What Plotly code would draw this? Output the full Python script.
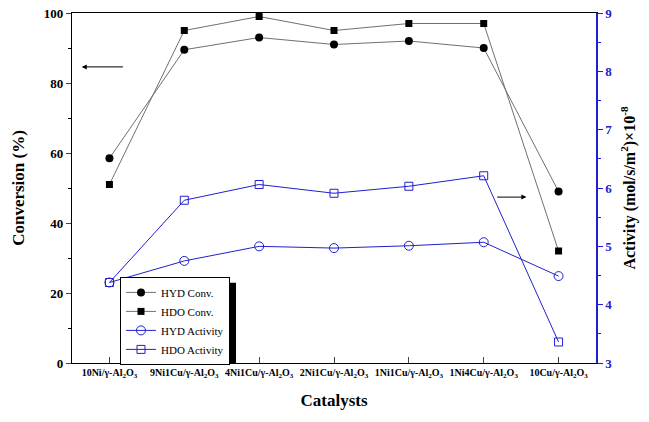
import plotly.graph_objects as go

catalysts = ["10Ni/γ-Al<sub>2</sub>O<sub>3</sub>", "9Ni1Cu/γ-Al<sub>2</sub>O<sub>3</sub>",
             "4Ni1Cu/γ-Al<sub>2</sub>O<sub>3</sub>", "2Ni1Cu/γ-Al<sub>2</sub>O<sub>3</sub>",
             "1Ni1Cu/γ-Al<sub>2</sub>O<sub>3</sub>", "1Ni4Cu/γ-Al<sub>2</sub>O<sub>3</sub>",
             "10Cu/γ-Al<sub>2</sub>O<sub>3</sub>"]
hyd_conv = [58.5, 89.5, 93.0, 91.0, 92.0, 90.0, 49.0]
hdo_conv = [51.0, 95.0, 99.0, 95.0, 97.0, 97.0, 32.0]
hyd_act = [4.38, 4.75, 5.00, 4.97, 5.01, 5.07, 4.49]
hdo_act = [4.38, 5.79, 6.06, 5.91, 6.03, 6.21, 3.36]

x = list(range(len(catalysts)))
serif = "Liberation Serif, Times New Roman, serif"
blue = "#2020d0"

fig = go.Figure()
fig.add_trace(go.Scatter(x=x, y=hyd_conv, name="HYD Conv.", mode="lines+markers",
                         line=dict(color="#707070", width=1),
                         marker=dict(symbol="circle", size=8, color="black")))
fig.add_trace(go.Scatter(x=x, y=hdo_conv, name="HDO Conv.", mode="lines+markers",
                         line=dict(color="#707070", width=1),
                         marker=dict(symbol="square", size=7, color="black")))
fig.add_trace(go.Scatter(x=x, y=hyd_act, name="HYD Activity", mode="lines+markers", yaxis="y2",
                         line=dict(color=blue, width=1),
                         marker=dict(symbol="circle-open", size=9, color=blue, line=dict(width=1))))
fig.add_trace(go.Scatter(x=x, y=hdo_act, name="HDO Activity", mode="lines+markers", yaxis="y2",
                         line=dict(color=blue, width=1),
                         marker=dict(symbol="square-open", size=8, color=blue, line=dict(width=1))))

fig.update_layout(
    width=649, height=422,
    margin=dict(l=72, r=53, t=13, b=59, autoexpand=False),
    plot_bgcolor="white", paper_bgcolor="white",
    font=dict(family=serif, color="black"),
    xaxis=dict(range=[-0.5, 6.5], tickvals=x, ticktext=catalysts, automargin=False,
               tickfont=dict(size=10, weight="bold"), ticks="inside", ticklen=6,
               showline=True, linecolor="black", linewidth=1.2, mirror=True,
               showgrid=False, zeroline=False, tickangle=0,
               title=dict(text="Catalysts", font=dict(size=17, weight="bold"), standoff=14)),
    yaxis=dict(range=[0, 100], dtick=20, ticks="outside", ticklen=5, automargin=False,
               minor=dict(dtick=10, ticks="outside", ticklen=3, tickcolor="black"),
               tickfont=dict(size=13, weight="bold"), ticklabeloverflow="allow",
               showline=True, linecolor="black", linewidth=1.2,
               showgrid=False, zeroline=False,
               title=dict(text="Conversion (%)", font=dict(size=17, weight="bold"), standoff=14)),
    yaxis2=dict(range=[3, 9], dtick=1, overlaying="y", side="right", anchor="x", automargin=False,
                ticks="outside", ticklen=5, tickcolor=blue, ticklabeloverflow="allow",
                minor=dict(dtick=0.5, ticks="outside", ticklen=3, tickcolor=blue),
                tickfont=dict(size=13, weight="bold", color=blue),
                showline=True, linecolor=blue, linewidth=1.5,
                showgrid=False, zeroline=False,
                title=dict(text="Activity (mol/s/m<sup>2</sup>)×10<sup>-8</sup>",
                           font=dict(size=16, weight="bold"), standoff=12)),
    legend=dict(x=0.0916, y=0.246, xanchor="left", yanchor="top",
                bgcolor="white", bordercolor="black", borderwidth=1,
                font=dict(size=11, family=serif), tracegroupgap=0, itemwidth=30),
    showlegend=True,
)

# legend shadow
fig.add_shape(type="rect", xref="paper", yref="paper", x0=0.103, x1=0.313, y0=0.0, y1=0.229,
              fillcolor="black", line=dict(width=0), layer="above")

# arrows
fig.add_annotation(x=-0.37, y=84.6, ax=0.2, ay=84.6, xref="x", yref="y", axref="x", ayref="y",
                   showarrow=True, arrowhead=2, arrowsize=1, arrowwidth=1, arrowcolor="black", text="")
fig.add_annotation(x=5.57, y=47.4, ax=5.16, ay=47.4, xref="x", yref="y", axref="x", ayref="y",
                   showarrow=True, arrowhead=2, arrowsize=1, arrowwidth=1, arrowcolor="black", text="")

fig.write_html("out.html", config={"displayModeBar": False},
               post_script="document.body.style.margin='0';document.body.style.padding='0';")
